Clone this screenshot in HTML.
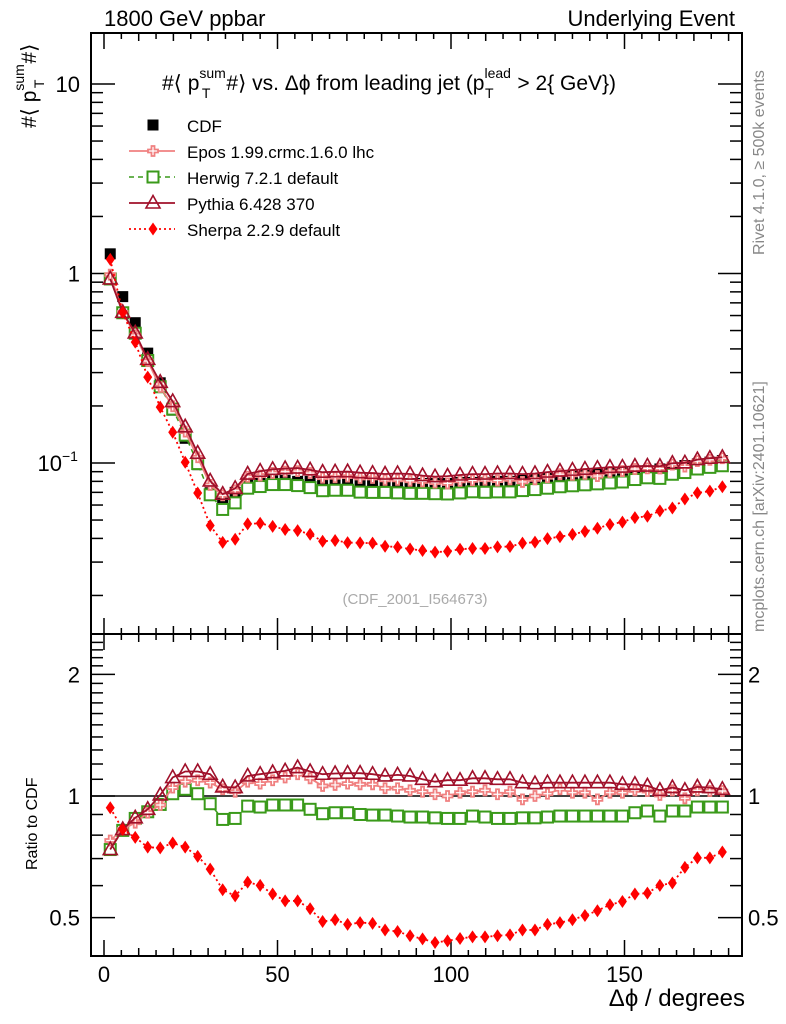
<!DOCTYPE html>
<html><head><meta charset="utf-8"><style>
html,body{margin:0;padding:0;background:#fff;}
svg{display:block;font-family:"Liberation Sans",sans-serif;}
</style></head><body>
<svg id="c" width="786" height="1024" viewBox="0 0 786 1024"></svg>
<script>
const binCenters=[1.8,5.4,9,12.6,16.2,19.8,23.4,27,30.6,34.2,37.8,41.4,45,48.6,52.2,55.8,59.4,63,66.6,70.2,73.8,77.4,81,84.6,88.2,91.8,95.4,99,102.6,106.2,109.8,113.4,117,120.6,124.2,127.8,131.4,135,138.6,142.2,145.8,149.4,153,156.6,160.2,163.8,167.4,171,174.6,178.2];
const cdfValues=[1.27,0.755,0.55,0.38,0.265,0.19,0.135,0.098,0.071,0.065,0.070,0.078,0.080,0.081,0.081,0.080,0.080,0.079,0.079,0.079,0.078,0.078,0.078,0.078,0.078,0.078,0.078,0.078,0.079,0.079,0.079,0.080,0.080,0.081,0.082,0.083,0.084,0.085,0.086,0.087,0.088,0.089,0.090,0.091,0.093,0.095,0.097,0.099,0.101,0.103];
const eposRatio=[0.776,0.826,0.859,0.909,0.95,1.049,1.085,1.094,1.079,1.039,1.025,1.085,1.073,1.094,1.111,1.132,1.106,1.059,1.065,1.073,1.069,1.069,1.045,1.045,1.033,1.025,1.01,1.0,1.019,1.025,1.033,1.01,1.025,0.981,1.0,1.013,1.039,1.019,1.019,0.981,1.019,1.019,1.033,1.029,1.006,1.033,0.987,1.033,1.029,1.029];
const herwigRatio=[0.737,0.822,0.88,0.914,0.953,1.013,1.039,1.013,0.957,0.875,0.88,0.944,0.939,0.95,0.95,0.95,0.927,0.904,0.909,0.909,0.9,0.897,0.897,0.892,0.887,0.887,0.883,0.88,0.88,0.892,0.887,0.88,0.88,0.883,0.883,0.887,0.892,0.892,0.892,0.892,0.892,0.892,0.909,0.918,0.892,0.918,0.918,0.939,0.939,0.939];
const pythiaRatio=[0.737,0.826,0.883,0.927,1.006,1.111,1.15,1.15,1.132,1.053,1.049,1.121,1.132,1.143,1.154,1.176,1.15,1.132,1.137,1.139,1.139,1.132,1.121,1.128,1.121,1.1,1.085,1.094,1.094,1.106,1.106,1.1,1.1,1.079,1.073,1.079,1.079,1.079,1.079,1.079,1.079,1.069,1.069,1.059,1.033,1.049,1.033,1.053,1.049,1.039];
const sherpaRatio=[0.935,0.826,0.79,0.747,0.744,0.765,0.747,0.709,0.659,0.586,0.566,0.612,0.601,0.572,0.55,0.55,0.526,0.489,0.494,0.481,0.486,0.484,0.466,0.462,0.451,0.443,0.434,0.438,0.444,0.448,0.448,0.451,0.453,0.466,0.466,0.481,0.486,0.494,0.506,0.52,0.538,0.548,0.572,0.575,0.601,0.609,0.666,0.703,0.703,0.727];
const xTicks=[0,50,100,150];
const mainTicks=[{v:10,l:"10"},{v:1,l:"1"},{v:0.1,l:"10"}];
const ratioTicks=[{v:2,l:"2"},{v:1,l:"1"},{v:0.5,l:"0.5"}];

const NS="http://www.w3.org/2000/svg";
const svg=document.getElementById('c');
function mk(tag,attrs,parent){const e=document.createElementNS(NS,tag);for(const k in attrs)e.setAttribute(k,attrs[k]);(parent||svg).appendChild(e);return e;}
const L=91,R=742,T=33,MID=634,B=956;
const X=d=>104+d*3.47;
const Ym=v=>273.5-189.5*Math.log10(v);
const Yr=r=>796-404*Math.log10(r);

const f1=mk('rect',{x:L,y:T,width:R-L,height:MID-T,fill:'none',stroke:'#000','stroke-width':2});


const f2=mk('rect',{x:L,y:MID,width:R-L,height:B-MID,fill:'none',stroke:'#000','stroke-width':2});



for(let d=0;d<=180;d+=10){
  const big=d%50===0, len=big?16:8;
  [[T,1],[MID,-1],[MID,1],[B,-1]].forEach(([y0,s])=>{
    mk('line',{x1:X(d),x2:X(d),y1:y0,y2:y0+s*len,stroke:'#000','stroke-width':1.5});
  });
}
for(let d=5;d<180;d+=10){
  [[T,1],[MID,-1],[MID,1],[B,-1]].forEach(([y0,s])=>{mk('line',{x1:X(d),x2:X(d),y1:y0,y2:y0+s*6,stroke:'#000','stroke-width':1.5});});
}
xTicks.forEach(t=>{
  const tx=mk('text',{x:X(t),y:982,'font-size':22,'text-anchor':'middle'});tx.textContent=t;
  
  
});
for(let e=-2;e<=1;e++){
  for(let m=1;m<=9;m++){
    const v=m*Math.pow(10,e),y=Ym(v);
    if(y<T||y>MID)continue;
    const len=m===1?24:12;
    mk('line',{x1:L,x2:L+len,y1:y,y2:y,stroke:'#000','stroke-width':1.5});
    mk('line',{x1:R,x2:R-len,y1:y,y2:y,stroke:'#000','stroke-width':1.5});
  }
}
mainTicks.forEach(t=>{
  const tx=mk('text',{x:t.v===0.1?62:80,y:Ym(t.v)+8,'font-size':22,'text-anchor':'end'});tx.textContent=t.l;
  
  
  if(t.v===0.1){const s=mk('text',{x:62,y:Ym(t.v)-2,'font-size':14});s.textContent='−1';}
});
[0.4,0.5,0.6,0.7,0.8,0.9,1,1.1,1.2,1.3,1.4,1.5,1.6,1.7,1.8,1.9,2,2.1,2.2,2.3,2.4].forEach(r=>{
  const y=Yr(r);if(y<MID||y>B)return;
  const big=(r===0.5||r===1||r===2),len=big?24:12;
  mk('line',{x1:L,x2:L+len,y1:y,y2:y,stroke:'#000','stroke-width':1.5});
  mk('line',{x1:R,x2:R-len,y1:y,y2:y,stroke:'#000','stroke-width':1.5});
});
ratioTicks.forEach(t=>{
  const a=mk('text',{x:80,y:Yr(t.v)+8,'font-size':22,'text-anchor':'end'});a.textContent=t.l;
  
  
  const b=mk('text',{x:748,y:Yr(t.v)+8,'font-size':22});b.textContent=t.l;
  
  
});
const ul=mk('line',{x1:L,x2:R,y1:Yr(1),y2:Yr(1),stroke:'#000','stroke-width':1.5});



function marker(kind,cx,cy,g){
  if(kind==='cdf'){mk('rect',{x:cx-5.5,y:cy-5.5,width:11,height:11,fill:'#000'},g);}
  else if(kind==='epos'){mk('path',{d:`M${cx-1.5},${cy-5}h3v3.5h3.5v3h-3.5v3.5h-3v-3.5h-3.5v-3h3.5z`,fill:'#fff',stroke:'#f08080','stroke-width':1.8},g);}
  else if(kind==='herwig'){mk('rect',{x:cx-5.5,y:cy-5.5,width:11,height:11,fill:'#fff',stroke:'#3a9a1a','stroke-width':2},g);}
  else if(kind==='pythia'){mk('path',{d:`M${cx},${cy-7.5}L${cx+7},${cy+5}L${cx-7},${cy+5}Z`,fill:'none',stroke:'#a0102a','stroke-width':1.6},g);}
  else {mk('path',{d:`M${cx},${cy-6.5}L${cx+4.5},${cy}L${cx},${cy+6.5}L${cx-4.5},${cy}Z`,fill:'#ff0000'},g);}
}
const styles={
  epos:{color:'#f08080',dash:'',w:1.8},
  herwig:{color:'#3a9a1a',dash:'5,4',w:1.5},
  pythia:{color:'#a0102a',dash:'',w:1.8},
  sherpa:{color:'#ff0000',dash:'2,3',w:1.8}
};
function series(name,vals,Y,withLine){
  const g=mk('g',{});
  
  
  const kind=name.split('-')[0];
  if(withLine){
    const st=styles[kind];
    const pts=vals.map((v,i)=>X(binCenters[i]).toFixed(1)+','+Y(v).toFixed(1)).join(' ');
    const a={points:pts,fill:'none',stroke:st.color,'stroke-width':st.w};
    if(st.dash)a['stroke-dasharray']=st.dash;
    mk('polyline',a,g);
  }
  vals.forEach((v,i)=>marker(kind,X(binCenters[i]),Y(v),g));
}
const mcs={epos:eposRatio,herwig:herwigRatio,pythia:pythiaRatio,sherpa:sherpaRatio};
series('cdf-main',cdfValues,Ym,false);
['herwig','epos','pythia','sherpa'].forEach(k=>{
  series(k+'-main',mcs[k].map((r,i)=>r*cdfValues[i]),Ym,true);
});
['herwig','epos','pythia','sherpa'].forEach(k=>{series(k+'-ratio',mcs[k],Yr,true);});

const legend=[['cdf','CDF'],['epos','Epos 1.99.crmc.1.6.0 lhc'],['herwig','Herwig 7.2.1 default'],['pythia','Pythia 6.428 370'],['sherpa','Sherpa 2.2.9 default']];
legend.forEach((e,i)=>{
  const y=125+i*26;
  const g=mk('g',{});
  
  
  if(e[0]!=='cdf'){
    const st=styles[e[0]];const a={x1:129,x2:175,y1:y,y2:y,stroke:st.color,'stroke-width':st.w};
    if(st.dash)a['stroke-dasharray']=st.dash;mk('line',a,g);
  }
  marker(e[0],153,y,g);
  const t=mk('text',{x:187,y:y+7,'font-size':17},g);t.textContent=e[1];
});

function txt(name,attrs,html){const t=mk('text',attrs);t.innerHTML=html;return t;}
txt('energy-label',{x:104,y:26,'font-size':22},'1800 GeV ppbar');
txt('process-label',{x:735,y:26,'font-size':22,'text-anchor':'end'},'Underlying Event');
txt('plot-title',{x:162,y:90,'font-size':21},'#⟨ p<tspan font-size="14" dy="-12">sum</tspan><tspan font-size="14" dx="-24" dy="20">T</tspan><tspan dy="-8" dx="16">#⟩ vs. Δϕ from leading jet  (p</tspan><tspan font-size="14" dy="-12">lead</tspan><tspan font-size="14" dx="-26" dy="20">T</tspan><tspan dy="-8" dx="18"> &gt; 2{ GeV})</tspan>');
txt('y-axis-title',{transform:'translate(36,128) rotate(-90)','font-size':21},'#⟨ p<tspan font-size="14" dy="-12">sum</tspan><tspan font-size="14" dx="-24" dy="20">T</tspan><tspan dy="-8" dx="16">#⟩</tspan>');
txt('ratio-axis-title',{transform:'translate(37,870) rotate(-90)','font-size':16},'Ratio to CDF');
txt('x-axis-title',{x:745,y:1006,'font-size':24,'text-anchor':'end'},'Δϕ / degrees');
txt('analysis-id',{x:415,y:604,'font-size':15,fill:'#aaa','text-anchor':'middle'},'(CDF_2001_I564673)');
txt('rivet-label',{transform:'translate(764,255) rotate(-90)','font-size':16,fill:'#888'},'Rivet 4.1.0, ≥ 500k events');
txt('mcplots-label',{transform:'translate(764,632) rotate(-90)','font-size':16,fill:'#888'},'mcplots.cern.ch [arXiv:2401.10621]');
</script>
</body></html>
